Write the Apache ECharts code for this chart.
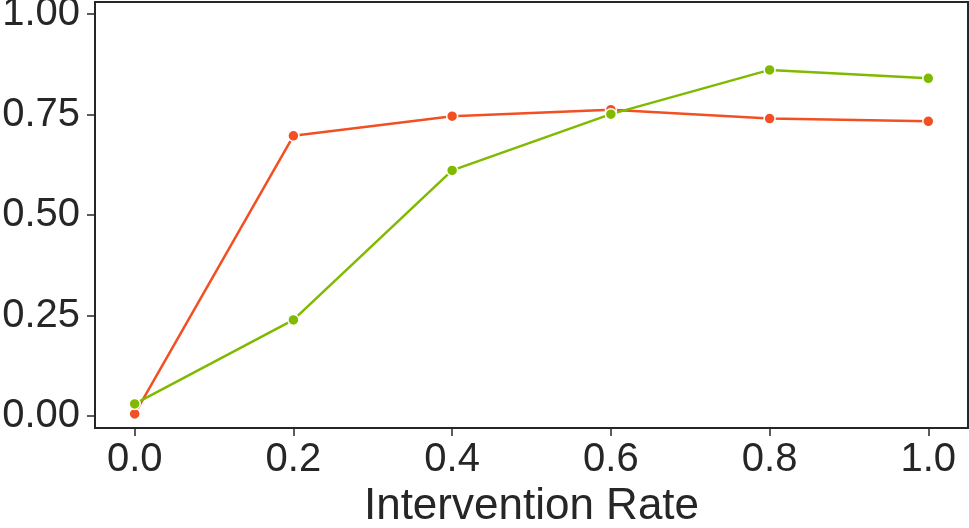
<!DOCTYPE html>
<html>
<head>
<meta charset="utf-8">
<script src="https://cdn.jsdelivr.net/npm/echarts@6/dist/echarts.min.js"></script>
<style>
html, body {margin: 0; padding: 0; background: #fff;}
#chart {width: 969px; height: 528px;}
</style>
</head>
<body>
<div id="chart"></div>
<script>
var rates = [0.0, 0.2, 0.4, 0.6, 0.8, 1.0];
var orangeValues = [0.005, 0.697, 0.746, 0.762, 0.740, 0.733];
var greenValues = [0.030, 0.239, 0.611, 0.751, 0.861, 0.840];
var xTicks = [0.0, 0.2, 0.4, 0.6, 0.8, 1.0];
var yTicks = [0.00, 0.25, 0.50, 0.75, 1.00];

var axisColor = '#262626';
var font = 'Liberation Sans, Arial, sans-serif';

function pairs(xs, ys) {
    return xs.map(function (x, i) {
        return [x, ys[i]];
    });
}

function lineSeries(values, color) {
    return {
        type: 'line',
        data: pairs(rates, values),
        symbol: 'circle',
        symbolSize: 11,
        showSymbol: true,
        lineStyle: {color: color, width: 2.5},
        itemStyle: {color: color, borderColor: '#fff', borderWidth: 1.5},
        z: 3
    };
}

var option = {
    animation: false,
    grid: {
        left: 95,
        right: 1,
        top: 2,
        bottom: 100,
        outerBoundsMode: 'none',
        containLabel: false,
        show: true,
        borderColor: axisColor,
        borderWidth: 2,
        backgroundColor: 'transparent'
    },
    xAxis: {
        type: 'value',
        min: -0.05,
        max: 1.05,
        name: 'Intervention Rate',
        nameLocation: 'middle',
        nameGap: 54,
        nameTextStyle: {fontFamily: font, fontSize: 44, color: axisColor},
        axisLine: {show: true, onZero: false, lineStyle: {color: axisColor, width: 2}},
        axisTick: {show: true, inside: false, length: 8, customValues: xTicks, lineStyle: {color: axisColor, width: 1.5}},
        axisLabel: {
            customValues: xTicks,
            margin: 12,
            fontFamily: font,
            fontSize: 40,
            color: axisColor,
            formatter: function (v) { return v.toFixed(1); }
        },
        splitLine: {show: false}
    },
    yAxis: {
        type: 'value',
        min: -0.03,
        max: 1.03,
        axisLine: {show: true, onZero: false, lineStyle: {color: axisColor, width: 2}},
        axisTick: {show: true, inside: false, length: 8, customValues: yTicks, lineStyle: {color: axisColor, width: 1.5}},
        axisLabel: {
            customValues: yTicks,
            margin: 15,
            fontFamily: font,
            fontSize: 40,
            color: axisColor,
            formatter: function (v) { return v.toFixed(2); }
        },
        splitLine: {show: false}
    },
    series: [
        lineSeries(orangeValues, '#F25022'),
        lineSeries(greenValues, '#7FBA00')
    ]
};

var chart = echarts.init(document.getElementById('chart'));
chart.setOption(option);
</script>
</body>
</html>
